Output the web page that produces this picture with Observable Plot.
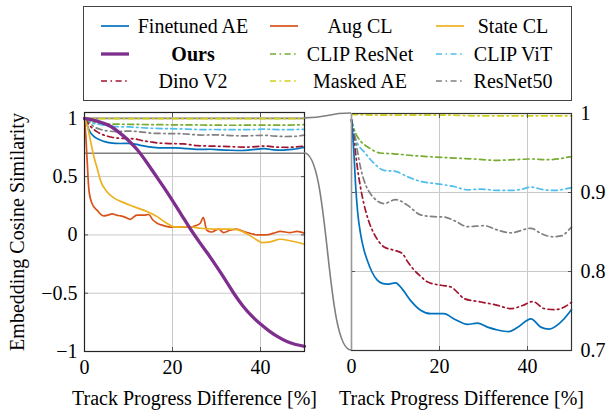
<!DOCTYPE html>
<html><head><meta charset="utf-8">
<script src="https://cdn.jsdelivr.net/npm/d3@7"></script>
<script src="https://cdn.jsdelivr.net/npm/@observablehq/plot@0.6"></script>
<style>
body{margin:0;background:#fff;}
#wrap{position:relative;width:610px;height:413px;font-family:"Liberation Serif","Times New Roman",serif;overflow:hidden;}
.legend{position:absolute;left:83px;top:6px;width:489px;height:95px;border:1.3px solid #444;box-sizing:border-box;background:#fff;}
.entry{position:absolute;height:26px;display:flex;align-items:center;font-size:20px;color:#000;white-space:nowrap;}
.entry span{display:inline-block;text-align:center;margin-left:7px;}
</style></head><body><div id="wrap"></div>
<script>
// ---------- data ----------
const seriesNames = ["Finetuned AE","Aug CL","State CL","Ours","CLIP ResNet","CLIP ViT","Dino V2","Masked AE","ResNet50"];

const feX = [0,0.5,0.9,1.4,2.05,2.8,3.6,4.6,5.85,7,8.1,10,11.5,13.4,15.7,18,21,23.3,26.4,28.6,30.9,33.2,35.8,37.7,40.8,43,44.9,47.2,49.5,50];
const feY = [0.992,0.955,0.912,0.875,0.848,0.828,0.814,0.8,0.789,0.785,0.784,0.7855,0.778,0.7635,0.751,0.7466,0.7466,0.74,0.733,0.7347,0.7296,0.726,0.724,0.729,0.74,0.7296,0.727,0.734,0.748,0.752];

const augX = [0,0.3,0.6,1,1.7,2.9,4.4,5.3,6.3,7.2,8.2,9.3,10.4,11.9,13.4,14.6,15.5,16.5,18,19.5,21.8,24,25.3,26.3,27,27.8,28.9,30.5,31.6,33.1,34.6,36.5,38,39.2,41.4,43,44.5,46.7,48.3,50];
const augY = [1,0.85,0.64,0.385,0.27,0.21,0.163,0.17,0.18,0.17,0.163,0.15,0.134,0.17,0.17,0.175,0.13,0.1,0.08,0.066,0.066,0.066,0.08,0.1,0.15,0.04,0.025,0.05,0.02,0.04,0.05,0.025,0.01,0,0,0.015,0.03,0.02,0.03,0.015];

const stateX = [0,0.7,1.4,2.2,2.9,3.6,5.1,6.6,8.9,11.2,14.2,16.5,18.7,20.6,24,26.3,29.3,32.7,34.6,36.9,39.2,40.3,42.2,44.5,46.7,50];
const stateY = [1,0.93,0.8,0.66,0.57,0.47,0.37,0.32,0.277,0.243,0.2,0.157,0.1,0.066,0.07,0.057,0.05,0.049,0.045,0.009,-0.043,-0.066,-0.06,-0.037,-0.05,-0.08];

const oursX = [0,2,4,6,8,10,12,14,16,18,20,22,24,26,28,30,32,34,36,38,40,42,44,46,48,50];
const oursY = [1,0.985,0.962,0.93,0.875,0.81,0.73,0.63,0.52,0.41,0.295,0.175,0.055,-0.055,-0.16,-0.27,-0.385,-0.505,-0.61,-0.695,-0.765,-0.825,-0.875,-0.915,-0.94,-0.955];

const clipResX = [0,0.6,1.3,2.4,3.6,6.6,9.6,14.2,18.8,23.3,27.9,33.2,37,40.8,44.6,47,49.5,50];
const clipResY = [0.992,0.98,0.971,0.963,0.958,0.95,0.949,0.9466,0.945,0.9436,0.9424,0.9407,0.9415,0.9424,0.9415,0.9425,0.945,0.9455];

const clipVitX = [0,0.6,1.3,2.8,5.1,7.4,10,12.7,15.7,19.5,23.3,26.4,29.4,33.2,36.2,38.5,40.8,43.8,46.1,49.5,50];
const clipVitY = [0.992,0.975,0.963,0.952,0.937,0.928,0.9267,0.92,0.914,0.911,0.9076,0.9034,0.9043,0.9026,0.9026,0.904,0.9068,0.9034,0.9026,0.9055,0.906];

const dinoX = [0,0.6,1.3,2,2.8,3.9,5.1,6.2,7.4,9.6,11.5,12.8,14.2,15.7,17.2,20.3,22.6,24,25.6,29.4,33.2,36.2,38.9,41.2,43.8,46.1,48,49.5,50];
const dinoY = [0.992,0.965,0.933,0.908,0.886,0.864,0.848,0.838,0.831,0.827,0.823,0.812,0.802,0.794,0.787,0.7826,0.7805,0.774,0.7657,0.7614,0.7572,0.753,0.757,0.762,0.753,0.7517,0.754,0.759,0.761];

const maeX = [0,5,10,20,30,40,50];
const maeY = [0.999,0.998,0.998,0.998,0.997,0.997,0.997];

const r50X = [0,0.6,1.3,2,2.8,3.9,5.1,7.4,10,12.7,15.7,18.8,21,23.5,26.4,30.1,33.2,36.2,40.8,43,45.7,47.9,49.5,50];
const r50Y = [0.992,0.975,0.954,0.933,0.916,0.902,0.893,0.886,0.891,0.884,0.8716,0.8694,0.869,0.864,0.8567,0.858,0.8525,0.849,0.8547,0.8483,0.844,0.8455,0.8534,0.856];

const xTicks = [0,20,40];
const leftYTicks = [-1,-0.5,0,0.5,1];
const rightYTicks = [0.7,0.8,0.9,1];
const zoomBand = [0.7,1];
const xLabel = "Track Progress Difference [%]";
const yLabel = "Embedding Cosine Similarity";

// ---------- styles ----------
const DD = "6,3.5,1.6,3.5";
const series = [
  {name:seriesNames[0], xs:feX, ys:feY, color:"#0072BD", dash:null, w:1.7, right:true},
  {name:seriesNames[1], xs:augX, ys:augY, color:"#D95319", dash:null, w:1.7, right:false},
  {name:seriesNames[2], xs:stateX, ys:stateY, color:"#EDB120", dash:null, w:1.7, right:false},
  {name:seriesNames[3], xs:oursX, ys:oursY, color:"#7E2F8E", dash:null, w:3.3, right:false, bold:true},
  {name:seriesNames[4], xs:clipResX, ys:clipResY, color:"#77AC30", dash:DD, w:1.7, right:true},
  {name:seriesNames[5], xs:clipVitX, ys:clipVitY, color:"#4DBEEE", dash:DD, w:1.7, right:true},
  {name:seriesNames[6], xs:dinoX, ys:dinoY, color:"#A2142F", dash:DD, w:1.7, right:true},
  {name:seriesNames[7], xs:maeX, ys:maeY, color:"#CFCF1A", dash:DD, w:1.7, right:true},
  {name:seriesNames[8], xs:r50X, ys:r50Y, color:"#808080", dash:DD, w:1.7, right:true}
];
const rowsOf = s => s.xs.map((x,i)=>({x, y:s.ys[i]}));
const drawOrder = [7,4,5,8,6,0,1,2,3];
const lineMark = s => Plot.line(rowsOf(s), {x:"x", y:"y", stroke:s.color, strokeWidth:s.w, strokeDasharray:s.dash||undefined, curve:"monotone-x"});
const fmtL = d => d < 0 ? "\u2212" + Math.abs(d) : String(d);
const svgStyle = "font-family:'Liberation Serif','Times New Roman',serif;font-size:20px;background:transparent;overflow:visible;";
const gridC = "#c9c9c9", tickC = "#555";

const wrap = document.getElementById("wrap");

// ---------- legend ----------
const leg = document.createElement("div");
leg.className = "legend";
const colLeft = [17,186,352], colW = [114,110,84], rowTop = [6,34,61];
series.forEach((s,i)=>{
  const r = Math.floor(i/3), c = i%3;
  const e = document.createElement("div");
  e.className = "entry";
  e.style.left = colLeft[c]+"px"; e.style.top = rowTop[r]+"px";
  e.innerHTML = `<svg width="28" height="10"><line x1="0" x2="28" y1="5" y2="5" stroke="${s.color}" stroke-width="${s.w}" ${s.dash?`stroke-dasharray="${s.dash}"`:""}/></svg><span style="width:${colW[c]}px;${s.bold?"font-weight:bold;":""}">${s.name}</span>`;
  leg.appendChild(e);
});
wrap.appendChild(leg);

// ---------- left panel ----------
const LOFF = [0,108], ROFF = [330,108];
const left = Plot.plot({
  width:330, height:305, marginLeft:84, marginRight:26, marginTop:4, marginBottom:62,
  x:{domain:[0,50]}, y:{domain:[-1,1.05]},
  style:svgStyle,
  marks:[
    Plot.ruleX(xTicks.slice(1), {stroke:gridC, strokeWidth:1}),
    Plot.ruleY(leftYTicks.slice(1), {stroke:gridC, strokeWidth:1}),
    Plot.ruleY(zoomBand, {stroke:"#7f7f7f", strokeWidth:1.6}),
    ...drawOrder.map(i=>lineMark(series[i])),
    Plot.axisX({ticks:xTicks.slice(1), tickSize:4, dy:-4, tickFormat:()=>"", label:null, stroke:tickC}),
    Plot.axisX({anchor:"top", ticks:xTicks.slice(1), tickSize:4, dy:4, tickFormat:()=>"", label:null, stroke:tickC}),
    Plot.axisY({ticks:leftYTicks.slice(1,4), tickSize:4, dx:4, tickFormat:()=>"", label:null, stroke:tickC}),
    Plot.axisY({anchor:"right", ticks:leftYTicks.slice(1,4), tickSize:4, dx:-4, tickFormat:()=>"", label:null, stroke:tickC}),
    Plot.frame({stroke:"#222", strokeWidth:1.2}),
    Plot.axisX({ticks:xTicks, tickSize:0, tickPadding:8, label:null, tickFormat:d=>String(d), fontSize:20}),
    Plot.axisY({ticks:leftYTicks, tickSize:0, tickPadding:7, label:null, tickFormat:fmtL, fontSize:20}),
    Plot.text([yLabel], {text:d=>d, frameAnchor:"left", dx:-67, rotate:-90, textAnchor:"middle", lineAnchor:"middle", fontSize:20}),
    Plot.text([xLabel], {text:d=>d, frameAnchor:"bottom", dy:47, textAnchor:"middle", lineAnchor:"middle", fontSize:20})
  ]
});
left.style.position = "absolute"; left.style.left = LOFF[0]+"px"; left.style.top = LOFF[1]+"px";
wrap.appendChild(left);

// ---------- right panel ----------
const right = Plot.plot({
  width:280, height:305, marginLeft:21, marginRight:39, marginTop:5, marginBottom:63,
  x:{domain:[0,50]}, y:{domain:[0.7,1]},
  style:svgStyle,
  marks:[
    Plot.ruleX(xTicks.slice(1), {stroke:gridC, strokeWidth:1}),
    Plot.ruleY(rightYTicks.slice(1,3), {stroke:gridC, strokeWidth:1}),
    ...drawOrder.filter(i=>series[i].right).map(i=>lineMark(series[i])),
    Plot.axisX({ticks:xTicks.slice(1), tickSize:4, dy:-4, tickFormat:()=>"", label:null, stroke:tickC}),
    Plot.axisX({anchor:"top", ticks:xTicks.slice(1), tickSize:4, dy:4, tickFormat:()=>"", label:null, stroke:tickC}),
    Plot.axisY({ticks:rightYTicks.slice(1,3), tickSize:4, dx:4, tickFormat:()=>"", label:null, stroke:tickC}),
    Plot.axisY({anchor:"right", ticks:rightYTicks.slice(1,3), tickSize:4, dx:-4, tickFormat:()=>"", label:null, stroke:tickC}),
    Plot.frame({stroke:"#333", strokeWidth:1.2}),
    Plot.ruleX([0], {stroke:"#9a9a9a", strokeWidth:1.3}),
    Plot.axisX({ticks:xTicks, tickSize:0, tickPadding:8, label:null, tickFormat:d=>String(d), fontSize:20}),
    Plot.axisY({anchor:"right", ticks:rightYTicks, tickSize:0, tickPadding:9, label:null, tickFormat:d=>String(d), fontSize:20}),
    Plot.text([xLabel], {text:d=>d, frameAnchor:"bottom", dy:48, textAnchor:"middle", lineAnchor:"middle", fontSize:20})
  ]
});
right.style.position = "absolute"; right.style.left = ROFF[0]+"px"; right.style.top = ROFF[1]+"px";
wrap.appendChild(right);

// ---------- zoom connectors (from scales) ----------
const lx = left.scale("x"), ly = left.scale("y"), rx = right.scale("x"), ry = right.scale("y");
const ns = "http://www.w3.org/2000/svg";
const ov = document.createElementNS(ns, "svg");
ov.setAttribute("width", 610); ov.setAttribute("height", 413);
ov.style.position = "absolute"; ov.style.left = "0px"; ov.style.top = "0px"; ov.style.pointerEvents = "none";
zoomBand.forEach(v=>{
  const ax = lx.apply(50) + LOFF[0], ay = ly.apply(v) + LOFF[1];
  const bx = rx.apply(0) + ROFF[0], by = ry.apply(v) + ROFF[1];
  const mx = (ax + bx) / 2;
  const p = d3.path();
  p.moveTo(ax, ay);
  p.bezierCurveTo(mx + 2, ay, mx - 2, by, bx, by);
  const el = document.createElementNS(ns, "path");
  el.setAttribute("d", p.toString());
  el.setAttribute("fill", "none");
  el.setAttribute("stroke", "#7f7f7f");
  el.setAttribute("stroke-width", 1.6);
  ov.appendChild(el);
});
wrap.appendChild(ov);
</script></body></html>
